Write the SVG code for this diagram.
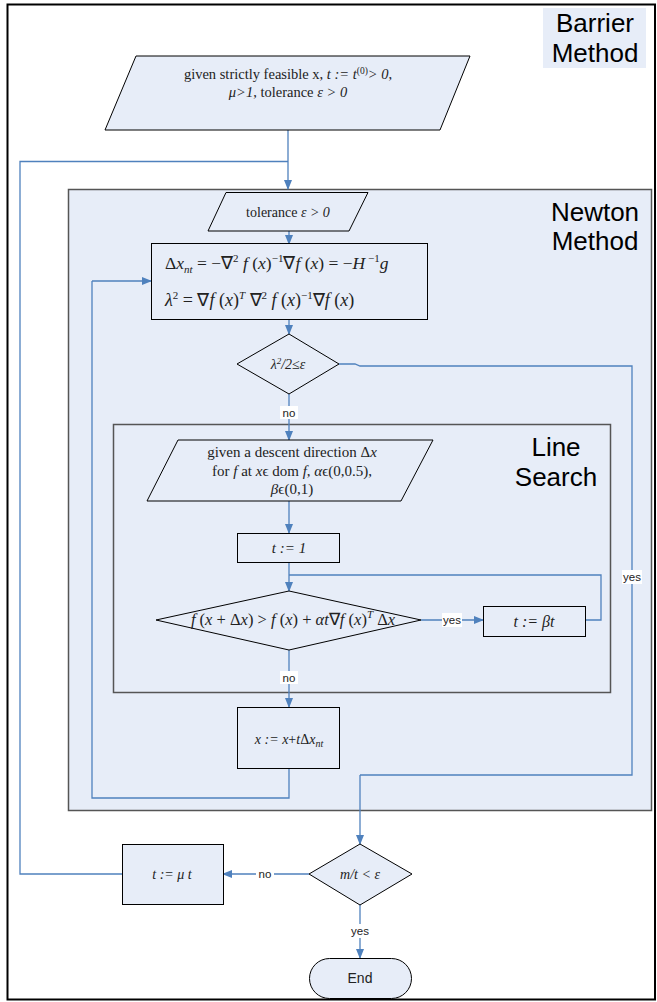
<svg xmlns="http://www.w3.org/2000/svg" width="657" height="1002" viewBox="0 0 657 1002">
<defs>
<marker id="arr" markerWidth="10" markerHeight="8" refX="9" refY="4" orient="auto" markerUnits="userSpaceOnUse">
<path d="M0,0 L10,4 L0,8 Z" fill="#4F81BD"/>
</marker>
<style>
.node{fill:#E7EDF8;stroke:#000;stroke-width:1}
.cont{fill:#E7EDF8;stroke:#555;stroke-width:1.5}
.conn{fill:none;stroke:#4F81BD;stroke-width:1.3}
.arrow{marker-end:url(#arr)}
.title{font-family:"Liberation Sans",Arial,sans-serif;font-size:26px;fill:#000;text-anchor:middle}
.lbl{font-family:"Liberation Sans",Arial,sans-serif;font-size:11.5px;fill:#222;text-anchor:middle}
.lblbg{fill:#fff}
.math{font-family:"Liberation Serif","Times New Roman",serif;fill:#222}
.it{font-style:italic}
.c{text-anchor:middle}
</style>
</defs>
<rect x="0" y="0" width="657" height="1002" fill="#fff"/>
<rect id="border" x="7.5" y="4.5" width="647.5" height="995" fill="none" stroke="#000" stroke-width="2"/>

<g id="barrier-title">
<rect x="543" y="8" width="103" height="60" fill="#E7EDF8"/>
<text class="title" x="595" y="32">Barrier</text>
<text class="title" x="595" y="62">Method</text>
</g>

<g id="newton-box">
<rect class="cont" x="68.5" y="189.5" width="583" height="621"/>
<text class="title" x="595" y="221">Newton</text>
<text class="title" x="595" y="250">Method</text>
</g>

<g id="linesearch-box">
<rect class="cont" x="113.5" y="424.5" width="497" height="268"/>
<text class="title" x="556" y="456">Line</text>
<text class="title" x="556" y="486">Search</text>
</g>

<g id="connectors">
<path class="conn arrow" d="M288,130 V189"/>
<path class="conn" d="M122,874 H20 V161.5 H288"/>
<path class="conn arrow" d="M289,231 V244"/>
<path class="conn arrow" d="M289,319 V334"/>
<path class="conn" d="M339,364 H355 L360,366 H632 V775 H360"/>
<path class="conn arrow" d="M360,775 V844"/>
<path class="conn arrow" d="M289,394 V440"/>
<path class="conn arrow" d="M289,501 V533"/>
<path class="conn arrow" d="M289,562 V591"/>
<path class="conn" d="M585,620 H601 V575 H289"/>
<path class="conn arrow" d="M421,620 H483"/>
<path class="conn arrow" d="M289,650 V707"/>
<path class="conn" d="M289,768 V798 H92 V281"/>
<path class="conn arrow" d="M92,281 H151"/>
<path class="conn arrow" d="M309,874 H223"/>
<path class="conn arrow" d="M360,905 V958"/>
<rect class="lblbg" x="280" y="406" width="18" height="13"/>
<text class="lbl" x="289" y="417">no</text>
<rect class="lblbg" x="622" y="570" width="20" height="14"/>
<text class="lbl" x="632" y="581">yes</text>
<rect class="lblbg" x="442" y="613" width="20" height="14"/>
<text class="lbl" x="452" y="624">yes</text>
<rect class="lblbg" x="280" y="671" width="18" height="13"/>
<text class="lbl" x="289" y="682">no</text>
<rect class="lblbg" x="256" y="867" width="18" height="13"/>
<text class="lbl" x="265" y="878">no</text>
<rect class="lblbg" x="350" y="924" width="20" height="14"/>
<text class="lbl" x="360" y="935">yes</text>
</g>

<g id="start">
<polygon class="node" points="136,56 470,56 440,130 105,130"/>
<text class="math c" x="288" y="79" font-size="14.5">given strictly feasible x, <tspan class="it">t := t</tspan><tspan dy="-5" font-size="9.5">(0)</tspan><tspan dy="5" class="it">&gt; 0</tspan>,</text>
<text class="math c" x="288" y="97" font-size="14.5"><tspan class="it">μ&gt;1</tspan>, tolerance <tspan class="it">ε &gt; 0</tspan></text>
</g>

<g id="tolerance">
<polygon class="node" points="226,192.5 368,192.5 349,231 208,231"/>
<text class="math c" x="288" y="217" font-size="14">tolerance <tspan class="it">ε &gt; 0</tspan></text>
</g>

<g id="newton-step">
<rect class="node" x="151.5" y="243.5" width="276" height="76"/>
<text class="math" x="165" y="269" font-size="17.5">Δ<tspan class="it">x</tspan><tspan class="it" dy="4" font-size="11">nt</tspan><tspan dy="-4"> = −∇</tspan><tspan dy="-7" font-size="11">2</tspan><tspan dy="7" class="it"> f</tspan> (<tspan class="it">x</tspan>)<tspan dy="-7" font-size="11">−1</tspan><tspan dy="7">∇</tspan><tspan class="it">f</tspan> (<tspan class="it">x</tspan>) = −<tspan class="it">H</tspan><tspan dy="-7" font-size="11"> −1</tspan><tspan dy="7" class="it">g</tspan></text>
<text class="math" x="165" y="306" font-size="18"><tspan class="it">λ</tspan><tspan dy="-7" font-size="11">2</tspan><tspan dy="7"> = ∇</tspan><tspan class="it">f</tspan> (<tspan class="it">x</tspan>)<tspan dy="-7" font-size="11" class="it">T</tspan><tspan dy="7"> ∇</tspan><tspan dy="-7" font-size="11">2</tspan><tspan dy="7" class="it"> f</tspan> (<tspan class="it">x</tspan>)<tspan dy="-7" font-size="11">−1</tspan><tspan dy="7">∇</tspan><tspan class="it">f</tspan> (<tspan class="it">x</tspan>)</text>
</g>

<g id="decrement-check">
<polygon class="node" points="289,334 339,364 289,394 237,364"/>
<text class="math c it" x="288" y="369" font-size="14">λ<tspan dy="-5" font-size="9">2</tspan><tspan dy="5">/2≤ε</tspan></text>
</g>

<g id="ls-input">
<polygon class="node" points="178,440 433,440 401,501 147,501"/>
<text class="math c" x="292" y="457" font-size="15">given a descent direction Δ<tspan class="it">x</tspan></text>
<text class="math c" x="292" y="476" font-size="15">for <tspan class="it">f</tspan> at <tspan class="it">x</tspan>ϵ dom <tspan class="it">f</tspan>, <tspan class="it">α</tspan>ϵ(0,0.5),</text>
<text class="math c" x="292" y="494" font-size="15"><tspan class="it">β</tspan>ϵ(0,1)</text>
</g>

<g id="t-init">
<rect class="node" x="237.5" y="533.5" width="102" height="29"/>
<text class="math c it" x="289" y="553" font-size="15">t := 1</text>
</g>

<g id="armijo">
<polygon class="node" points="289,591 421,620 289,650 156,620"/>
<text class="math c" x="293" y="625" font-size="16.5"><tspan class="it">f</tspan> (<tspan class="it">x</tspan> + Δ<tspan class="it">x</tspan>) &gt; <tspan class="it">f</tspan> (<tspan class="it">x</tspan>) + <tspan class="it">αt</tspan>∇<tspan class="it">f</tspan> (<tspan class="it">x</tspan>)<tspan dy="-7" font-size="11" class="it">T</tspan><tspan dy="7"> Δ</tspan><tspan class="it">x</tspan></text>
</g>

<g id="t-shrink">
<rect class="node" x="483.5" y="606.5" width="102" height="30"/>
<text class="math c it" x="534" y="627" font-size="16">t := βt</text>
</g>

<g id="update">
<rect class="node" x="237.5" y="707.5" width="102" height="61"/>
<text class="math c" x="289" y="744" font-size="14"><tspan class="it">x := x</tspan>+<tspan class="it">t</tspan>Δ<tspan class="it">x</tspan><tspan class="it" dy="3" font-size="10">nt</tspan></text>
</g>

<g id="t-increase">
<rect class="node" x="122.5" y="844.5" width="101" height="60"/>
<text class="math c it" x="172" y="879" font-size="14">t := μ t</text>
</g>

<g id="stop-check">
<polygon class="node" points="360,844 412,874 360,905 309,874"/>
<text class="math c it" x="360" y="879" font-size="14">m/t &lt; ε</text>
</g>

<g id="end">
<rect class="node" x="309.5" y="958.5" width="102" height="40" rx="20" ry="20"/>
<text class="lbl" x="360" y="983" style="font-size:14px">End</text>
</g>
</svg>
